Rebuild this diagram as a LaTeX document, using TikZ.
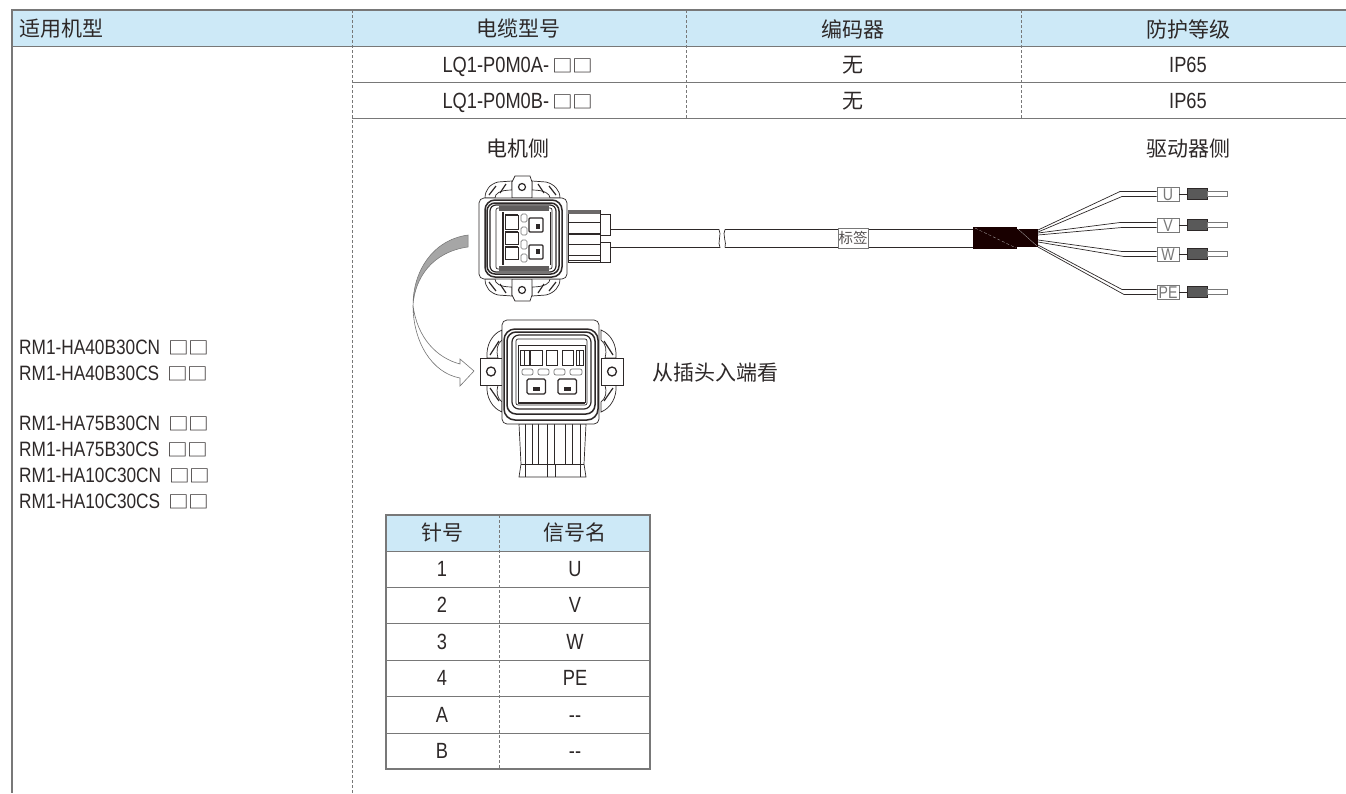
\documentclass[tikz,border=0pt]{standalone}
\usepackage{fontspec}
\setmainfont[FakeStretch=0.83]{Liberation Sans}
\newfontfamily\cjk{Noto Sans CJK SC}
\newfontfamily\boxfont[FakeStretch=1.18]{Noto Sans CJK SC}
\usetikzlibrary{calc,positioning}
\definecolor{headblue}{RGB}{205,233,247}
\definecolor{rulegrey}{RGB}{120,120,120}
\definecolor{inkline}{RGB}{45,40,40}

\begin{document}
\begin{tikzpicture}[x=1pt,y=-1pt]
	\tikzstyle{cell}=[inner sep=0pt,text=inkline,text height=15pt,text depth=0pt,font=\fontsize{22}{24}\selectfont]
	\tikzstyle{head}=[inner sep=0pt,text=inkline,font=\fontsize{21}{23}\selectfont\cjk]
	\tikzstyle{model}=[cell,anchor=west,font=\fontsize{20.8}{23}\selectfont]
	\tikzstyle{rowline}=[rulegrey,line width=1pt]
	\tikzstyle{boxline}=[rulegrey,line width=1.4pt]
	\tikzstyle{sepline}=[rulegrey,line width=.7pt,densely dashed]
	\tikzstyle{part}=[draw=inkline,line width=.7pt,fill=white]
	\tikzstyle{ring}=[part,line width=1.5pt]
	\tikzstyle{wire}=[inkline,line width=.7pt]
	\tikzstyle{tag}=[draw=rulegrey,line width=.8pt,fill=white,inner sep=0pt,minimum width=22pt,minimum height=14pt,text height=12pt,text depth=0pt,text=rulegrey,font=\fontsize{17}{17}\selectfont]
	\newcommand{\sq}{{\boxfont\fontsize{17.5}{17.5}\selectfont □□}}
	\useasboundingbox (0,0) rectangle (1346,793);
	% main table
	\fill[headblue] (12,10) rectangle (1346,46);
	\draw[rowline,line width=1.3pt] (1346,10) -- (12,10) -- (12,793);
	\draw[rowline] (12,46) -- (1346,46);
	\foreach \y in {82,118} \draw[rowline] (352,\y) -- (1346,\y);
	\draw[sepline] (352,10) -- (352,793);
	\foreach \x in {686,1021} \draw[sepline] (\x,10) -- (\x,118);
	\node[head,anchor=west] (hmodel) at (19,29) {适用机型};
	\node[head] (hcable) at (518,29) {电缆型号};
	\node[head] (hcoder) at (853,29) {编码器};
	\node[head] (hprot) at (1188,29) {防护等级};
	\node[cell] (cablea) at (518,65) {LQ1-P0M0A-\hspace{3pt}\sq};
	\node[cell] (cableb) at (518,101) {LQ1-P0M0B-\hspace{3pt}\sq};
	\node[head] (codera) at (853,65) {无};
	\node[head] (coderb) at (853,101) {无};
	\node[cell] (prota) at (1188,65) {IP65};
	\node[cell] (protb) at (1188,101) {IP65};
	\node[head] (motorside) at (518,149) {电机侧};
	\node[head] (driveside) at (1188,149) {驱动器侧};
	\node[head,anchor=west] (viewnote) at (652,373) {从插头入端看};
	\foreach \y/\t in {347/40B30CN,373/40B30CS,423/75B30CN,449/75B30CS,475/10C30CN,501/10C30CS}
		\node[model] (rm\t) at (19,\y) {RM1-HA\t\hspace{8pt}\sq};
	% motor connector, top view
	\foreach \m in {0,1}{
		\begin{scope}[shift={(0,477*\m)},yscale={1-2*\m}]
			\draw[part] (512,181) -- (498,182) .. controls (490,184) and (485,190) .. (485,198) -- (495,198) .. controls (495,194) and (499,190) .. (512,190) -- cycle;
			\draw[part] (532,181) -- (546,182) .. controls (554,184) and (560,190) .. (560,198) -- (550,198) .. controls (550,194) and (545,190) .. (532,190) -- cycle;
			\draw[wire,line width=1.2pt] (489,195) -- (496,186) (506,184) -- (500,193);
			\draw[wire,line width=1.2pt] (556,195) -- (549,186) (538,184) -- (544,193);
			\draw[part] (512,198) -- (512,182) -- (515,176) -- (530,176) -- (532,182) -- (532,198) -- cycle;
			\draw[part,line width=1.2pt] (522,187) circle (3.5pt);
		\end{scope}
	}
	\draw[part] (568,210) rectangle (600,262);
	\fill[inkline!70] (568,210) rectangle (600,214);
	\foreach \y in {222,244,255,260} \draw[wire] (568,\y) -- (600,\y);
	\draw[wire,line width=1.2pt] (568,234) -- (600,234);
	\draw[part] (600,214) rectangle (610,235);
	\draw[part] (600,242) rectangle (610,262);
	\draw[part,rounded corners=5pt] (479,198) rectangle (567,279);
	\draw[ring,rounded corners=10pt] (485,200) rectangle (562,277);
	\draw[ring,rounded corners=8pt] (487,203) rectangle (559,274);
	\draw[part,line width=1.2pt,rounded corners=6pt] (490,205) rectangle (556,272);
	\draw[part,rounded corners=2pt] (496,208) rectangle (552,269);
	\fill[inkline!75] (499,206) rectangle (549,211);
	\fill[inkline!75] (499,266) rectangle (549,271);
	\draw[wire,line width=1.3pt] (503,212) -- (503,265);
	\draw[wire] (550,212) -- (550,265);
	\foreach \a/\b in {215/229,232/244,247/259}{
		\draw[part] (505,\a) rectangle (518,\b);
		\draw[wire,line width=1.6pt] (505,\a) -- (518,\a);
	}
	\foreach \a/\b in {214/222,227/235,240/249,254/262} \draw[part,draw=rulegrey,rounded corners=1.5pt] (521,\a) rectangle (527,\b);
	\foreach \a/\b/\c in {218/232/224,245/259/249}{
		\draw[part,line width=1.1pt,rounded corners=1pt] (529,\a) rectangle (543,\b);
		\fill[inkline] (536,\c) rectangle (540,\c+4.5);
	}
	% cable
	\draw[wire] (610,229.5) -- (719,229.5) .. controls (722,234) and (717,243) .. (720,247.5) -- (610,247.5);
	\draw[wire] (725,229.5) .. controls (722,234) and (727,243) .. (725,247.5);
	\draw[wire] (725,229.5) -- (973,229.5);
	\draw[wire] (725,247.5) -- (973,247.5);
	\node[draw=rulegrey,line width=.7pt,fill=white,inner sep=0pt,minimum width=30pt,minimum height=20pt,text=inkline!80,font=\fontsize{14.5}{14.5}\selectfont\cjk] (cablelabel) at (853,238) {标签};
	\fill[black!90!red] (973,227) rectangle (1017,249);
	\fill[black!90!red] (1017,229) rectangle (1038,247);
	\draw[white!70!black,line width=.3pt,densely dashed] (975,228) -- (1016,248);
	\draw[white!70!black,line width=.3pt] (1018,229) -- (1037,246);
	\coordinate (sleeve) at (1038,238);
	% flying leads
	\foreach \t/\y/\a/\b/\bx in {U/194/230/232/1120,V/225/233/235/1120,W/254/240/242/1122,PE/292/245/247/1122}{
		\node[tag] (lead\t) at (1168,\y) {\t};
		\draw[wire] (1038,\a) -- (\bx,\y-2.5) -- (lead\t.west |- 0,\y-2.5);
		\draw[wire] (1038,\b) -- (\bx+2,\y+2.5) -- (lead\t.west |- 0,\y+2.5);
		\draw[wire,line width=1pt] (lead\t.east) -- (1187,\y);
		\draw[fill=black!65,draw=inkline,line width=.7pt] (1187,\y-5.5) rectangle (1207,\y+5.5);
		\draw[rulegrey,line width=.7pt,fill=white] (1207,\y-2.5) rectangle (1227,\y+2.5);
	}
	% turn-over arrow
	\draw[draw=black!55,line width=.5pt,fill=black!35] (468,235) .. controls (432,240) and (413,272) .. (413,305) .. controls (415,278) and (432,252) .. (468,247) -- cycle;
	\draw[draw=black!55,line width=.6pt,fill=white] (413,305) .. controls (413,342) and (432,373) .. (460,378) -- (460,386) -- (474,371) -- (460,359) -- (460,364) .. controls (437,358) and (417,338) .. (413,305) -- cycle;
	% motor connector, front view
	\draw[part] (519,424) -- (586,424) -- (584,464) -- (586,477) -- (519,477) -- (521,464) -- cycle;
	\foreach \x in {525,532,538,547,554,565,572,580} \draw[wire] (\x,424) -- (\x,464);
	\draw[wire] (521,464) -- (584,464);
	\draw[wire] (547,464) -- (547,477) (555,464) -- (555,477) (525,464) -- (525,477) (580,464) -- (580,477);
	\foreach \m in {0,1}{
		\begin{scope}[shift={(1103*\m,0)},xscale={1-2*\m}]
			\draw[part] (502,330) .. controls (492,334) and (486,345) .. (487,358) -- (498,358) .. controls (496,350) and (497,344) .. (502,340) -- cycle;
			\draw[part] (502,412) .. controls (492,408) and (486,397) .. (487,385) -- (498,385) .. controls (496,392) and (497,398) .. (502,402) -- cycle;
			\draw[wire,line width=1.2pt] (490,355) -- (499,341) (490,388) -- (499,401);
			\draw[part] (480,358) rectangle (502,385);
			\draw[part,line width=1.3pt] (491,371.5) circle (4.5pt);
		\end{scope}
	}
	\draw[part,rounded corners=5pt] (502,320) rectangle (599,424);
	\draw[ring,rounded corners=11pt] (504,329) rectangle (598,420);
	\draw[ring,rounded corners=9pt] (507,332) rectangle (595,414);
	\draw[part,line width=1.2pt,rounded corners=7pt] (512,335) rectangle (591,409);
	\draw[part,rounded corners=2pt] (516,339) rectangle (587,405);
	\draw[part] (518,345) rectangle (585,402);
	\draw[wire,line width=1.5pt] (518,403) -- (585,403);
	\foreach \a/\b in {520/529,530/542,546/557,562/573,576/583} \draw[part,line width=1pt] (\a,350) rectangle (\b,365);
	\foreach \x in {524,579} \draw[wire,line width=1pt] (\x,350) -- (\x,365);
	\foreach \a/\b in {522/533,538/549,554/565,570/582} \draw[part,draw=rulegrey,rounded corners=2pt] (\a,369) rectangle (\b,375);
	\foreach \a/\c in {527/533,558/564}{
		\draw[part,line width=1.1pt,rounded corners=1.5pt] (\a,379) rectangle (\a+18.5,394);
		\fill[inkline] (\c,387) rectangle (\c+6.5,390.5);
	}
	% pin table
	\fill[headblue] (386,515) rectangle (650,551);
	\foreach \y in {551,587,623,660,696,733} \draw[rowline] (386,\y) -- (650,\y);
	\draw[sepline] (499,515) -- (499,769);
	\draw[boxline] (386,515) rectangle (650,769);
	\node[head] (hpin) at (442,533) {针号};
	\node[head] (hsignal) at (575,533) {信号名};
	\foreach \n/\y/\s in {1/569/U,2/605/V,3/642/W,4/678/PE,A/715/{-{}-},B/751/{-{}-}}{
		\node[cell] (pin\n) at (442,\y) {\n};
		\node[cell] (sig\n) at (575,\y) {\s};
	}
\end{tikzpicture}
\end{document}
